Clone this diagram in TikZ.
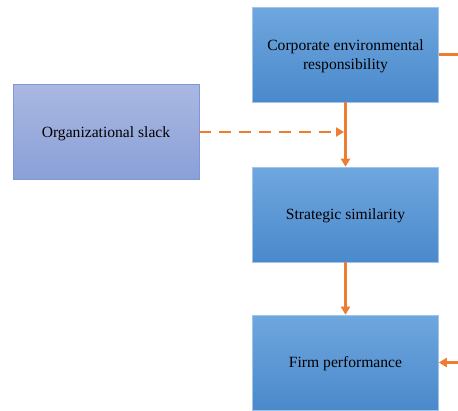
\documentclass[tikz,border=0pt]{standalone}
\usepackage{fontspec}
\setmainfont{Liberation Serif}
\usetikzlibrary{arrows.meta,positioning}
\definecolor{boxtop}{HTML}{6FA7DF}
\definecolor{boxbot}{HTML}{4A89CB}
\definecolor{boxline}{HTML}{A0C4EA}
\definecolor{slacktop}{HTML}{AAB8E2}
\definecolor{slackbot}{HTML}{8AA0D8}
\definecolor{slackline}{HTML}{7F97D4}
\definecolor{myorange}{HTML}{ED7D31}
\begin{document}
\begin{tikzpicture}[%
            x=1pt, y=-1pt,
            myblock/.style={rectangle, minimum width=186pt, minimum height=95pt,
                inner sep=0pt, align=center, font=\fontsize{15.6}{19}\selectfont,
                text depth=0pt,
                top color=boxtop, bottom color=boxbot, draw=boxline, line width=0.6pt},
            myslack/.style={myblock, top color=slacktop, bottom color=slackbot, draw=slackline},
            myarrow/.style={draw=myorange, line width=2.8pt,
                -{Triangle[length=8pt,width=9pt]}}
        ]
        \useasboundingbox (0,0) rectangle (458,410);
        % boxes
        \node (cer) at (345.5,54.5) [myblock] {Corporate environmental\\responsibility};
        \node (slack) at (106,132) [myslack] {Organizational slack};
        \node (sim) at (345.5,214.5) [myblock] {Strategic similarity};
        \node (perf) at (345.5,362.5) [myblock] {Firm performance};
        % loose ends at the right border
        \coordinate (outcer) at (458,54.5);
        \coordinate (outperf) at (458,362.5);
        % connectors
        \draw [myarrow] (cer.south) -- (sim.north);
        \draw [myarrow] (sim.south) -- (perf.north);
        \draw [myarrow, dashed, dash pattern=on 12pt off 8pt, shorten >=1.5pt]
              (slack.east) -- (slack.east -| cer.south);
        \draw [draw=myorange, line width=2.8pt] (cer.east) -- (outcer);
        \draw [myarrow] (outperf) -- (perf.east);
    \end{tikzpicture}
\end{document}
